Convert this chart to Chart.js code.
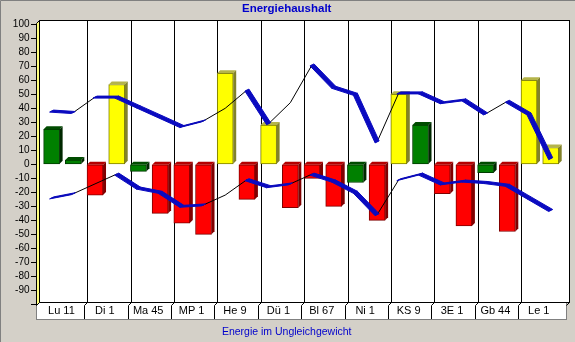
<!DOCTYPE html>
<html>
<head>
<meta charset="utf-8">
<title>Energiehaushalt</title>
<script src="https://cdn.jsdelivr.net/npm/chart.js"></script>
<style>
  html, body { margin: 0; padding: 0; background: #d4d0c8; }
  #wrap { width: 575px; height: 342px; }
</style>
</head>
<body>
<div id="wrap"><canvas id="chart" width="575" height="342"></canvas></div>
<script>
// categories (meridians), two bars each
const categories = ['Lu 11', 'Di 1', 'Ma 45', 'MP 1', 'He 9', 'Dü 1', 'Bl 67', 'Ni 1', 'KS 9', '3E 1', 'Gb 44', 'Le 1'];

// bar values, in order: first and second bar of every category
const barValues = [25, 3, -22, 57, -5, -35, -42, -50, 65, -25, 28, -31, -10, -30, -13, -40, 50, 28, -21, -44, -6, -48, 60, 12];
const barStatus = ['ok', 'ok', 'leer', 'voll', 'ok', 'leer', 'leer', 'leer', 'voll', 'leer', 'voll', 'leer',
                   'leer', 'leer', 'ok', 'leer', 'voll', 'ok', 'leer', 'leer', 'ok', 'leer', 'voll', 'voll'];

// the two lines, one point per bar
const upperLine = [38, 37, 48, 48, 41, 34, 27, 31, 40, 53, 29, 44, 71, 55, 50, 16, 51, 51, 44, 46, 36, 45, 36, 4];
const lowerLine = [-24, -21, -14, -7, -17, -20, -30, -29, -22, -11, -16, -14, -7, -12, -20, -36, -11, -7, -14, -12, -13, -15, -24, -33];

const X_MIN = -0.72, X_MAX = 23.705;
const DEPTH = 3;
const RIB = { a: 4, b: 2 };
const BLUE = '#0a0ac0';
const colors = {
  ok:   { front: '#008000', top: '#004c00', side: '#002800', border: '#003c00' },
  voll: { front: '#ffff00', top: '#b4b44a', side: '#82822a', border: '#7c7c00' },
  leer: { front: '#ff0000', top: '#b40000', side: '#800000', border: '#800000' }
};

const toXY = arr => arr.map((v, j) => ({ x: j, y: v }));

Chart.defaults.font.family = '"Liberation Sans", Arial, sans-serif';

// background, walls, category separators, label boxes
const frame3d = {
  id: 'frame3d',
  beforeDraw(chart) {
    const { ctx, chartArea, width, height } = chart;
    const xs = chart.scales.x;
    const d = DEPTH;
    const L = Math.round(chartArea.left), R = Math.round(chartArea.right);
    const T = Math.round(chartArea.top) - 4, B = Math.round(chartArea.bottom) - 2;
    const rowB = B + 17;
    ctx.save();
    ctx.fillStyle = '#d4d0c8';
    ctx.fillRect(0, 0, width, height);
    ctx.lineWidth = 1;
    ctx.strokeStyle = '#808080';
    ctx.beginPath();
    ctx.moveTo(0.5, height); ctx.lineTo(0.5, 0.5); ctx.lineTo(width, 0.5);
    ctx.stroke();

    // label row
    ctx.fillStyle = '#fff';
    ctx.fillRect(L, B, R - L, rowB - B);
    ctx.strokeRect(L + 0.5, B + 0.5, R - L, rowB - B);

    // back wall
    ctx.fillRect(L + d, T, R - L, B - T);
    ctx.strokeStyle = '#000';
    ctx.strokeRect(L + d + 0.5, T + 0.5, R - L, B - T);
    ctx.beginPath();
    ctx.moveTo(R + d + 0.5, B + 0.5); ctx.lineTo(R + 0.5, B + d + 0.5);
    ctx.stroke();

    // left wall
    ctx.fillStyle = '#ffff80';
    ctx.beginPath();
    ctx.moveTo(L + 0.5, T + d + 0.5);
    ctx.lineTo(L + d + 0.5, T + 0.5);
    ctx.lineTo(L + d + 0.5, B + 0.5);
    ctx.lineTo(L + 0.5, B + d + 0.5);
    ctx.closePath();
    ctx.fill();
    ctx.stroke();

    // separators between categories
    for (let i = 1; i < categories.length; i++) {
      const b = Math.round(xs.getPixelForValue(2 * i - 0.5));
      ctx.beginPath();
      ctx.moveTo(b + d + 0.5, T);
      ctx.lineTo(b + d + 0.5, B + 0.5);
      ctx.lineTo(b + 0.5, B + d + 0.5);
      ctx.lineTo(b + 0.5, rowB);
      ctx.stroke();
    }
    ctx.restore();
  },
  afterDatasetDraw(chart, args) {
    const meta = args.meta;
    const ctx = chart.ctx;
    const d = DEPTH;
    const poly = pts => {
      ctx.beginPath();
      pts.forEach((p, k) => k ? ctx.lineTo(p[0], p[1]) : ctx.moveTo(p[0], p[1]));
      ctx.closePath();
    };
    ctx.save();
    if (meta.type === 'bar') {
      meta.data.forEach((bar, j) => {
        const c = colors[barStatus[j]];
        const l = bar.x - bar.width / 2, r = bar.x + bar.width / 2;
        const t = Math.min(bar.y, bar.base), btm = Math.max(bar.y, bar.base);
        ctx.fillStyle = c.top;
        poly([[l, t], [l + d, t - d], [r + d, t - d], [r, t]]);
        ctx.fill();
        ctx.fillStyle = c.side;
        poly([[r, t], [r + d, t - d], [r + d, btm - d], [r, btm]]);
        ctx.fill();
      });
    } else if (meta.type === 'line') {
      // ribbon: blue where its upper face shows, else the thin black edge stays
      const { a, b } = RIB;
      const pts = meta.data;
      for (let k = 0; k < pts.length - 1; k++) {
        const p0 = pts[k], p1 = pts[k + 1];
        const dx = p1.x - p0.x, dy = p1.y - p0.y;
        const th = (dx * b + dy * a) / Math.hypot(dx, dy);
        if (th < 0.8) continue;
        poly([[p0.x - a / 2, p0.y + b / 2], [p1.x - a / 2, p1.y + b / 2],
              [p1.x + a / 2, p1.y - b / 2], [p0.x + a / 2, p0.y - b / 2]]);
        ctx.fillStyle = BLUE; ctx.strokeStyle = BLUE; ctx.lineWidth = 1;
        ctx.fill(); ctx.stroke();
      }
    }
    ctx.restore();
  }
};

const lineDataset = values => ({
  type: 'line',
  data: toXY(values),
  borderColor: '#000',
  borderWidth: 1,
  pointRadius: 0,
  tension: 0,
  fill: false,
  order: 0,
  xAxisID: 'x',
  yAxisID: 'y'
});

new Chart(document.getElementById('chart'), {
  type: 'bar',
  data: {
    datasets: [
      lineDataset(upperLine),
      lineDataset(lowerLine),
      {
        type: 'bar',
        data: toXY(barValues),
        backgroundColor: barStatus.map(s => colors[s].front),
        borderColor: barStatus.map(s => colors[s].border),
        borderWidth: 1,
        borderSkipped: false,
        barThickness: 16,
        order: 1,
        xAxisID: 'x',
        yAxisID: 'y'
      }
    ]
  },
  options: {
    responsive: false,
    animation: false,
    devicePixelRatio: 1,
    layout: { padding: { left: 7.4, right: 9, top: 0, bottom: 0 } },
    plugins: {
      legend: { display: false },
      tooltip: { enabled: false },
      title: {
        display: true,
        text: 'Energiehaushalt',
        color: '#0000cc',
        font: { size: 11.5, weight: 'bold' },
        padding: { top: 2.1, bottom: 8.4 }
      },
      subtitle: {
        display: true,
        position: 'bottom',
        text: 'Energie im Ungleichgewicht',
        color: '#0000cc',
        font: { size: 10.5, weight: 'normal' },
        padding: { top: 2, bottom: 3.2 }
      }
    },
    scales: {
      x: { type: 'linear', min: X_MIN, max: X_MAX, bounds: 'data', offset: false, display: false },
      xl: {
        type: 'linear',
        position: 'bottom',
        min: X_MIN, max: X_MAX, bounds: 'data', offset: false,
        grid: { display: false, drawTicks: false },
        border: { display: false },
        ticks: {
          autoSkip: false, maxRotation: 0, padding: 0, color: '#000',
          font: { size: 11 },
          callback: (v, i) => categories[i]
        },
        afterBuildTicks: s => { s.ticks = categories.map((c, i) => ({ value: 2 * i + 0.45 })); },
        afterFit: s => { s.height = 19.9; }
      },
      y: {
        min: -100, max: 100,
        ticks: {
          stepSize: 10, autoSkip: false, padding: 1.5, color: '#000', font: { size: 10 },
          callback: v => v === -100 ? '' : v
        },
        grid: { drawOnChartArea: false, tickLength: 5, color: '#000' },
        border: { display: false },
        afterFit: s => { s.width = 28.6; }
      }
    }
  },
  plugins: [frame3d]
});
</script>
</body>
</html>
